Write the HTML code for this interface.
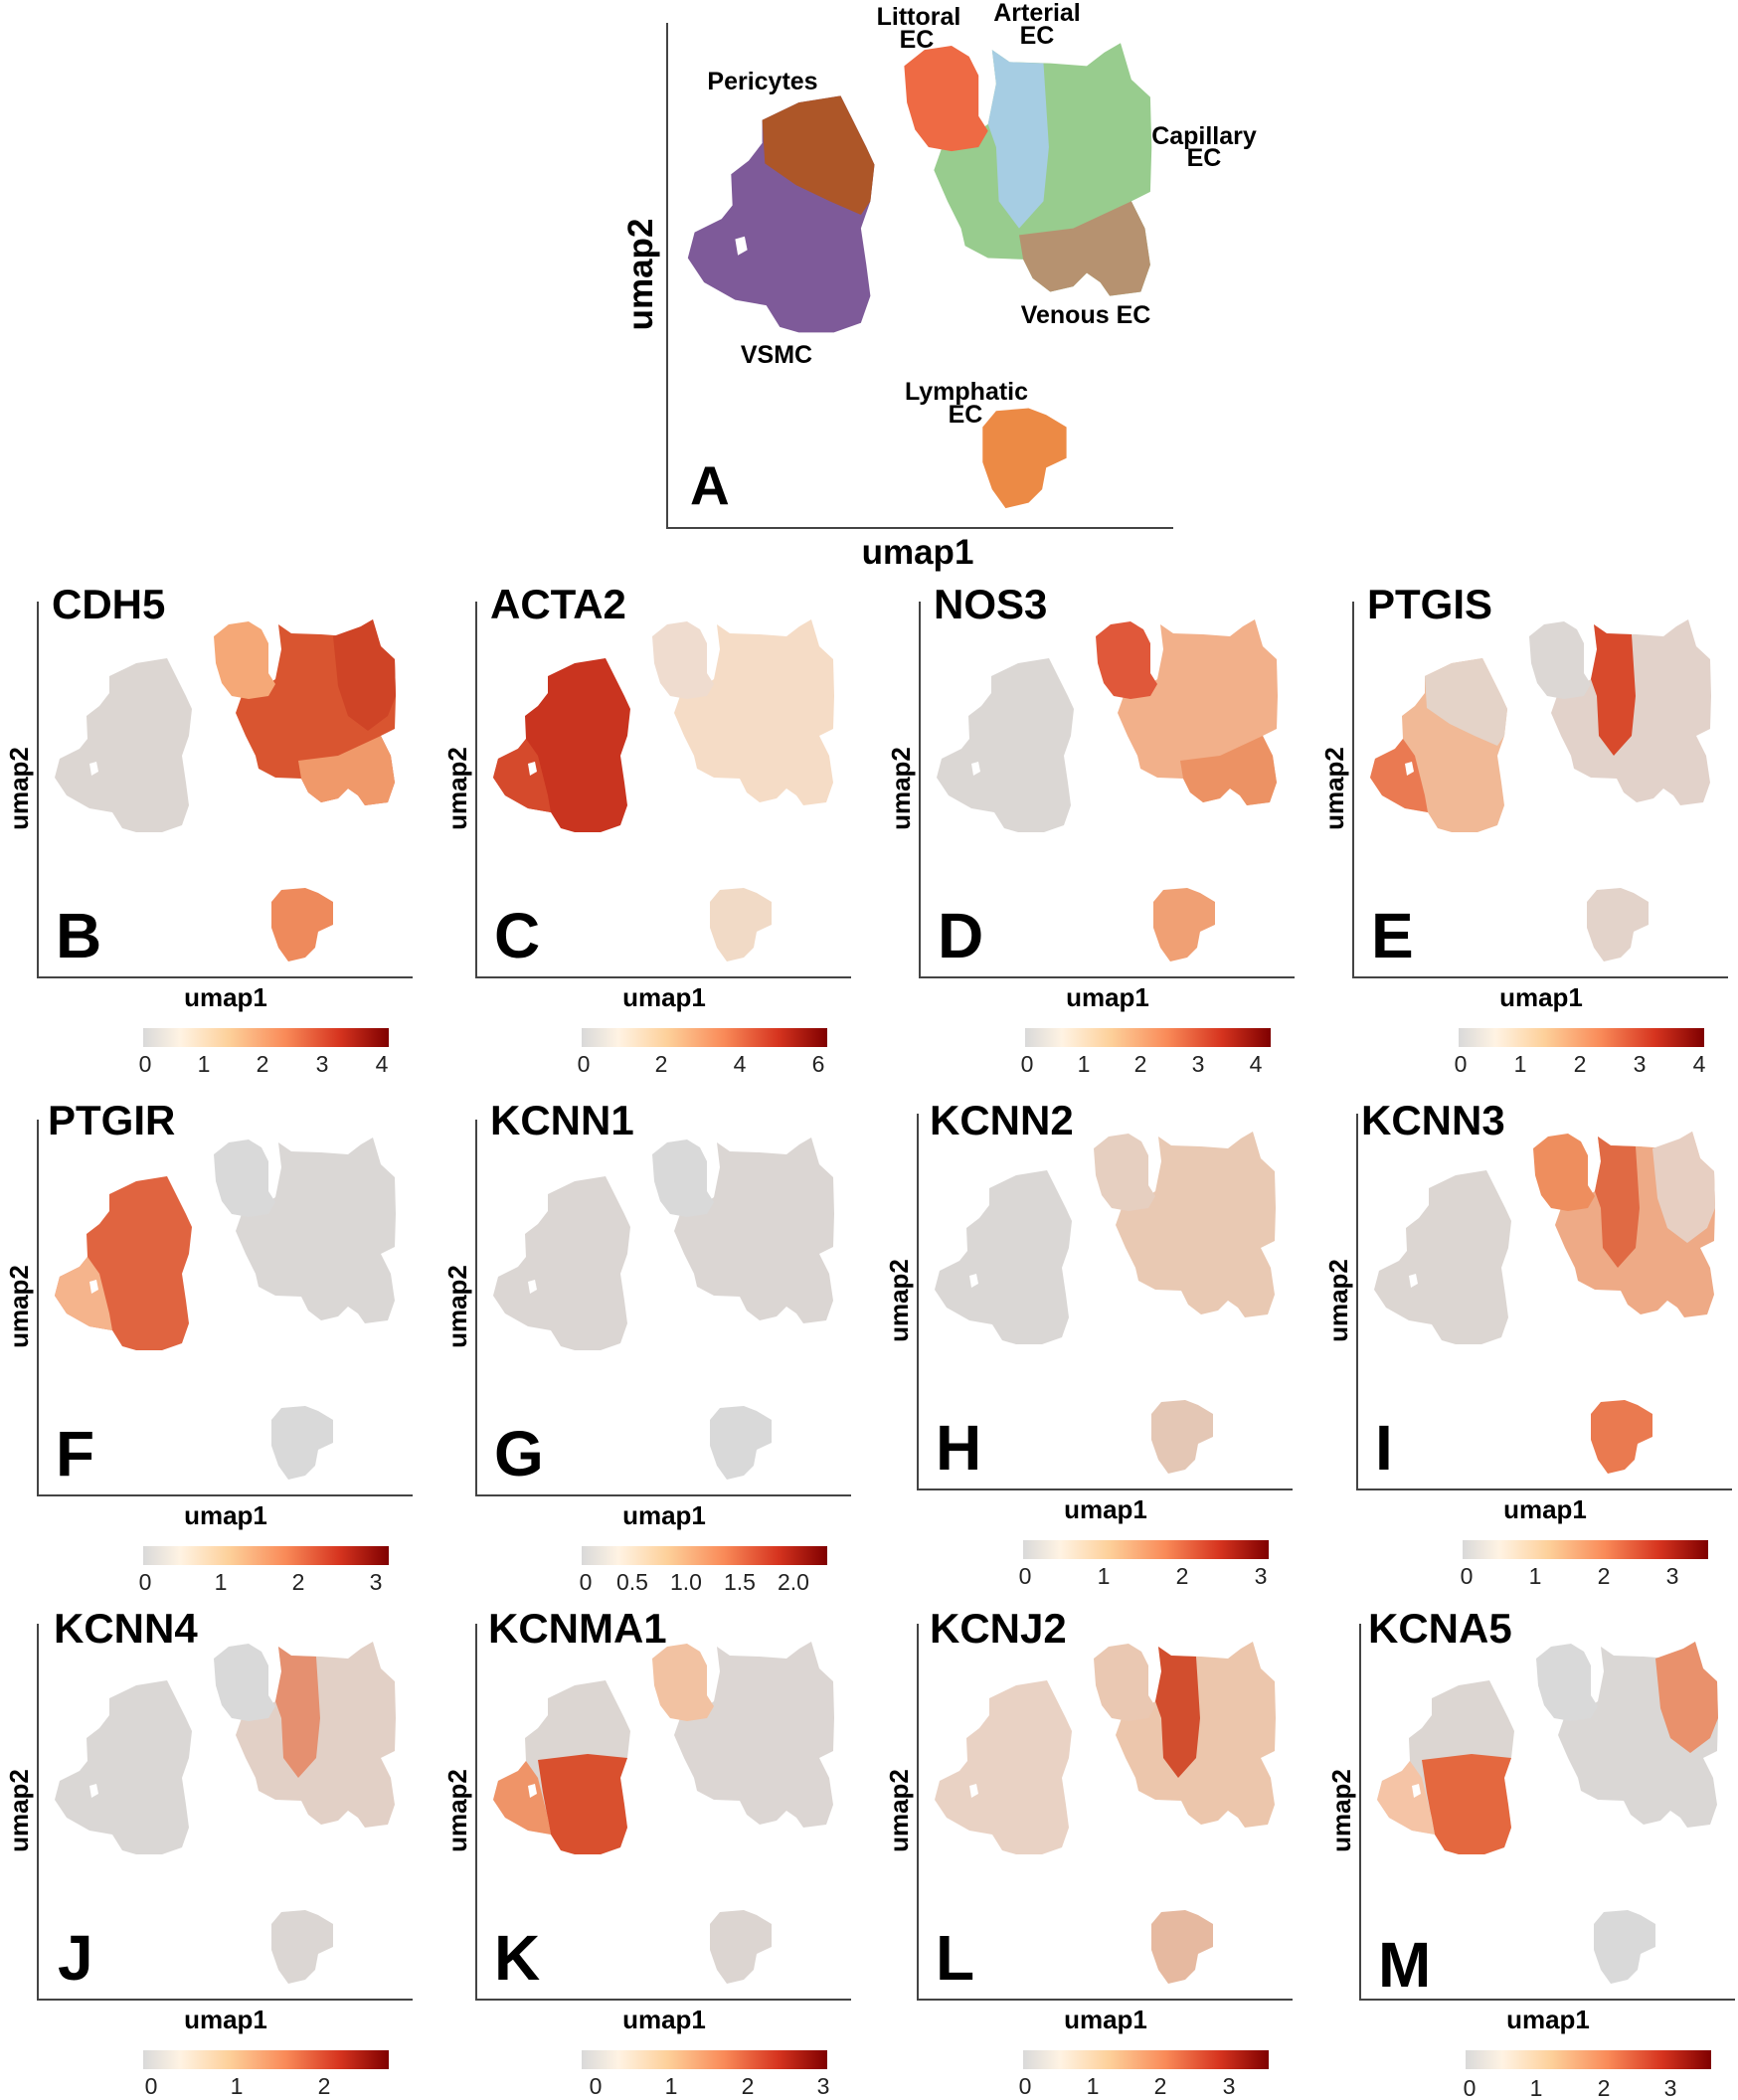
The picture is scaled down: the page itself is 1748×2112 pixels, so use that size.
<!DOCTYPE html>
<html><head><meta charset="utf-8"><style>
html,body{margin:0;padding:0;background:#fff;}
svg{display:block;}
text{font-family:"Liberation Sans",Arial,sans-serif;fill:#000;}
.t{font-size:42px;font-weight:bold;}
.L{font-size:64px;font-weight:bold;}
.ax{font-size:26px;font-weight:bold;text-anchor:middle;}
.tk{font-size:23px;text-anchor:middle;fill:#222;}
.cl{font-size:25px;font-weight:bold;text-anchor:middle;}
</style></head><body>
<svg width="1748" height="2112" viewBox="0 0 1748 2112" xmlns="http://www.w3.org/2000/svg">
<defs>
<linearGradient id="cb" x1="0" x2="1" y1="0" y2="0">
<stop offset="0" stop-color="#d9d9d9"/><stop offset="0.15" stop-color="#fff3e3"/><stop offset="0.35" stop-color="#fdd09a"/><stop offset="0.58" stop-color="#f98a58"/><stop offset="0.8" stop-color="#d6341f"/><stop offset="1" stop-color="#7f0000"/>
</linearGradient>
<path id="smc" d="M110,680 L137,667 168,662 177,680 187,700 193,713 190,740 183,760 187,787 190,810 183,830 163,837 137,837 123,833 113,817 90,813 67,800 55,782 60,763 80,753 88,743 87,720 100,710 110,697Z"/>
<path id="peri" d="M110,680 L137,667 168,662 177,680 187,700 193,713 190,740 183,750 160,740 135,728 112,712Z"/>
<path id="lobe" d="M55,782 L60,763 80,753 88,743 100,760 110,800 113,817 90,813 67,800Z"/>
<path id="low" d="M100,742 L150,736 190,740 183,760 187,787 190,810 183,830 163,837 137,837 123,833 113,817 105,775Z"/>
<path id="lit" d="M215,640 L230,628 250,625 263,633 270,647 270,677 277,688 270,700 250,703 233,700 223,687 217,667Z"/>
<path id="ec" d="M280,628 L293,637 323,638 350,640 363,630 375,623 383,650 397,663 398,700 397,733 383,740 393,760 397,787 390,807 367,810 360,800 350,793 340,803 323,807 310,797 303,783 277,782 260,773 257,760 247,740 237,717 243,700 263,693 277,683 283,653Z"/>
<path id="art" d="M280,628 L293,637 318,638 322,700 318,740 300,760 285,740 283,700 277,683 283,653Z"/>
<path id="ven" d="M300,765 L340,760 383,740 393,760 397,787 390,807 367,810 360,800 350,793 340,803 323,807 310,797 303,783Z"/>
<path id="ecr" d="M335,640 L363,630 375,623 383,650 397,663 398,700 390,720 370,735 350,720 340,690Z"/>
<path id="lym" d="M273,907 L283,895 307,893 320,898 335,907 335,930 320,937 317,953 307,963 290,967 280,953 273,933Z"/>
<path id="hole" d="M90,768 L97,766 99,776 92,780Z"/>
<g id="frame">
<path d="M38,605 V983 H415" fill="none" stroke="#444" stroke-width="2"/>
<text class="ax" x="227" y="1012">umap1</text>
<text class="ax" transform="translate(28,793) rotate(-90)">umap2</text>
<rect x="144" y="1034" width="247" height="19" fill="url(#cb)"/>
</g>
</defs>

<!-- Panel A -->
<path d="M671,23 V531 H1180" fill="none" stroke="#444" stroke-width="2"/>
<g transform="translate(617,-804) scale(1.36)">
<use href="#smc" fill="#7e5a99"/>
<use href="#peri" fill="#ad5628"/>
<use href="#hole" fill="#fff"/>
<use href="#ec" fill="#98cc8e"/>
<use href="#art" fill="#a6cde3"/>
<use href="#ven" fill="#b69270"/>
<use href="#lit" fill="#ee6a44"/>
<use href="#lym" fill="#ec8a45"/>
</g>
<text class="ax" style="font-size:35px" x="923" y="567">umap1</text>
<text class="ax" style="font-size:35px" transform="translate(656,276) rotate(-90)">umap2</text>
<text class="L" style="font-size:55px" x="694" y="507">A</text>
<text class="cl" x="924" y="25">Littoral</text>
<text class="cl" x="922" y="48">EC</text>
<text class="cl" x="1043" y="21">Arterial</text>
<text class="cl" x="1043" y="44">EC</text>
<text class="cl" x="1211" y="145">Capillary</text>
<text class="cl" x="1211" y="167">EC</text>
<text class="cl" x="767" y="90">Pericytes</text>
<text class="cl" x="781" y="365">VSMC</text>
<text class="cl" x="1092" y="325">Venous EC</text>
<text class="cl" x="972" y="402">Lymphatic</text>
<text class="cl" x="971" y="425">EC</text>

<!-- B CDH5 -->
<g transform="translate(0,0)">
<use href="#frame"/>
<use href="#smc" fill="#dcd6d2"/><use href="#hole" fill="#fff"/>
<use href="#ec" fill="#d95530"/><use href="#ven" fill="#f0996a"/><use href="#ecr" fill="#cf4426"/>
<use href="#lit" fill="#f5a877"/><use href="#lym" fill="#ee8a5c"/>
<text class="t" x="52" y="622">CDH5</text><text class="L" x="56" y="963">B</text>
<text class="tk" x="146" y="1078">0</text><text class="tk" x="205" y="1078">1</text><text class="tk" x="264" y="1078">2</text><text class="tk" x="324" y="1078">3</text><text class="tk" x="384" y="1078">4</text>
</g>
<!-- C ACTA2 -->
<g transform="translate(441,0)">
<use href="#frame"/>
<use href="#smc" fill="#c9341f"/><use href="#lobe" fill="#d54a2c"/><use href="#hole" fill="#fff"/>
<use href="#ec" fill="#f5dcc6"/><use href="#lit" fill="#efdccf"/><use href="#lym" fill="#f1dac6"/>
<text class="t" x="52" y="622">ACTA2</text><text class="L" x="56" y="963">C</text>
<text class="tk" x="146" y="1078">0</text><text class="tk" x="224" y="1078">2</text><text class="tk" x="303" y="1078">4</text><text class="tk" x="382" y="1078">6</text>
</g>
<!-- D NOS3 -->
<g transform="translate(887,0)">
<use href="#frame"/>
<use href="#smc" fill="#dbd7d4"/><use href="#hole" fill="#fff"/>
<use href="#ec" fill="#f2b08a"/><use href="#ven" fill="#ec9264"/><use href="#lit" fill="#e0583a"/><use href="#lym" fill="#f0a074"/>
<text class="t" x="52" y="622">NOS3</text><text class="L" x="56" y="963">D</text>
<text class="tk" x="146" y="1078">0</text><text class="tk" x="203" y="1078">1</text><text class="tk" x="260" y="1078">2</text><text class="tk" x="318" y="1078">3</text><text class="tk" x="376" y="1078">4</text>
</g>
<!-- E PTGIS -->
<g transform="translate(1323,0)">
<use href="#frame"/>
<use href="#smc" fill="#f1b996"/><use href="#peri" fill="#e4d3c8"/><use href="#lobe" fill="#ea7a52"/><use href="#hole" fill="#fff"/>
<use href="#ec" fill="#e2d2ca"/><use href="#art" fill="#d84a2c"/><use href="#lit" fill="#dcd7d4"/><use href="#lym" fill="#e3d3ca"/>
<text class="t" x="52" y="622">PTGIS</text><text class="L" x="56" y="963">E</text>
<text class="tk" x="146" y="1078">0</text><text class="tk" x="206" y="1078">1</text><text class="tk" x="266" y="1078">2</text><text class="tk" x="326" y="1078">3</text><text class="tk" x="386" y="1078">4</text>
</g>

<!-- F PTGIR -->
<g transform="translate(0,521)">
<use href="#frame"/>
<use href="#smc" fill="#e06440"/><use href="#lobe" fill="#f5b48c"/><use href="#hole" fill="#fff"/>
<use href="#ec" fill="#dad7d5"/><use href="#lit" fill="#d9d9d9"/><use href="#lym" fill="#d9d9d9"/>
<text class="t" x="48" y="620">PTGIR</text><text class="L" x="56" y="963">F</text>
<text class="tk" x="146" y="1078">0</text><text class="tk" x="222" y="1078">1</text><text class="tk" x="300" y="1078">2</text><text class="tk" x="378" y="1078">3</text>
</g>
<!-- G KCNN1 -->
<g transform="translate(441,521)">
<use href="#frame"/>
<use href="#smc" fill="#dbd6d3"/><use href="#hole" fill="#fff"/>
<use href="#ec" fill="#dbd6d3"/><use href="#lit" fill="#d9d9d9"/><use href="#lym" fill="#d9d9d9"/>
<text class="t" x="52" y="620">KCNN1</text><text class="L" x="56" y="963">G</text>
<text class="tk" x="148" y="1078">0</text><text class="tk" x="195" y="1078">0.5</text><text class="tk" x="249" y="1078">1.0</text><text class="tk" x="303" y="1078">1.5</text><text class="tk" x="357" y="1078">2.0</text>
</g>
<!-- H KCNN2 -->
<g transform="translate(885,515)">
<use href="#frame"/>
<use href="#smc" fill="#dad7d5"/><use href="#hole" fill="#fff"/>
<use href="#ec" fill="#e9c9b3"/><use href="#lit" fill="#e6cfc0"/><use href="#lym" fill="#e4c7b5"/>
<text class="t" x="50" y="626">KCNN2</text><text class="L" x="56" y="963">H</text>
<text class="tk" x="146" y="1078">0</text><text class="tk" x="225" y="1078">1</text><text class="tk" x="304" y="1078">2</text><text class="tk" x="383" y="1078">3</text>
</g>
<!-- I KCNN3 -->
<g transform="translate(1327,515)">
<use href="#frame"/>
<use href="#smc" fill="#dcd6d2"/><use href="#hole" fill="#fff"/>
<use href="#ec" fill="#eeaa86"/><use href="#art" fill="#e06a44"/><use href="#ecr" fill="#e7cfc2"/><use href="#lit" fill="#ee8e5e"/><use href="#lym" fill="#ea7a50"/>
<text class="t" x="42" y="626">KCNN3</text><text class="L" x="56" y="963">I</text>
<text class="tk" x="148" y="1078">0</text><text class="tk" x="217" y="1078">1</text><text class="tk" x="286" y="1078">2</text><text class="tk" x="355" y="1078">3</text>
</g>

<!-- J KCNN4 -->
<g transform="translate(0,1028)">
<use href="#frame"/>
<use href="#smc" fill="#dad7d5"/><use href="#hole" fill="#fff"/>
<use href="#ec" fill="#e2d0c6"/><use href="#art" fill="#e59070"/><use href="#lit" fill="#d9d9d9"/><use href="#lym" fill="#dbd6d3"/>
<text class="t" x="54" y="624">KCNN4</text><text class="L" x="58" y="963">J</text>
<text class="tk" x="152" y="1078">0</text><text class="tk" x="238" y="1078">1</text><text class="tk" x="326" y="1078">2</text>
</g>
<!-- K KCNMA1 -->
<g transform="translate(441,1028)">
<use href="#frame"/>
<use href="#smc" fill="#dcd6d2"/><use href="#low" fill="#d9502e"/><use href="#lobe" fill="#ef9468"/><use href="#hole" fill="#fff"/>
<use href="#ec" fill="#dcd6d3"/><use href="#lit" fill="#f2c2a2"/><use href="#lym" fill="#dcd5d1"/>
<text class="t" x="50" y="624">KCNMA1</text><text class="L" x="56" y="963">K</text>
<text class="tk" x="158" y="1078">0</text><text class="tk" x="234" y="1078">1</text><text class="tk" x="311" y="1078">2</text><text class="tk" x="387" y="1078">3</text>
</g>
<!-- L KCNJ2 -->
<g transform="translate(885,1028)">
<use href="#frame"/>
<use href="#smc" fill="#e9d2c4"/><use href="#hole" fill="#fff"/>
<use href="#ec" fill="#ecc6ac"/><use href="#art" fill="#d24e2e"/><use href="#lit" fill="#eac8b2"/><use href="#lym" fill="#e6b9a0"/>
<text class="t" x="50" y="624">KCNJ2</text><text class="L" x="56" y="963">L</text>
<text class="tk" x="146" y="1078">0</text><text class="tk" x="214" y="1078">1</text><text class="tk" x="282" y="1078">2</text><text class="tk" x="351" y="1078">3</text>
</g>
<!-- M KCNA5 -->
<g transform="translate(1330,1028)">
<use href="#frame"/>
<use href="#smc" fill="#dcd6d2"/><use href="#low" fill="#e4683f"/><use href="#lobe" fill="#f5c4a6"/><use href="#hole" fill="#fff"/>
<use href="#ec" fill="#dad7d5"/><use href="#ecr" fill="#e9916c"/><use href="#lit" fill="#d9d9d9"/><use href="#lym" fill="#d9d9d9"/>
<text class="t" x="46" y="624">KCNA5</text><text class="L" x="56" y="970">M</text>
<text class="tk" x="148" y="1080">0</text><text class="tk" x="215" y="1080">1</text><text class="tk" x="283" y="1080">2</text><text class="tk" x="350" y="1080">3</text>
</g>
</svg>
</body></html>
